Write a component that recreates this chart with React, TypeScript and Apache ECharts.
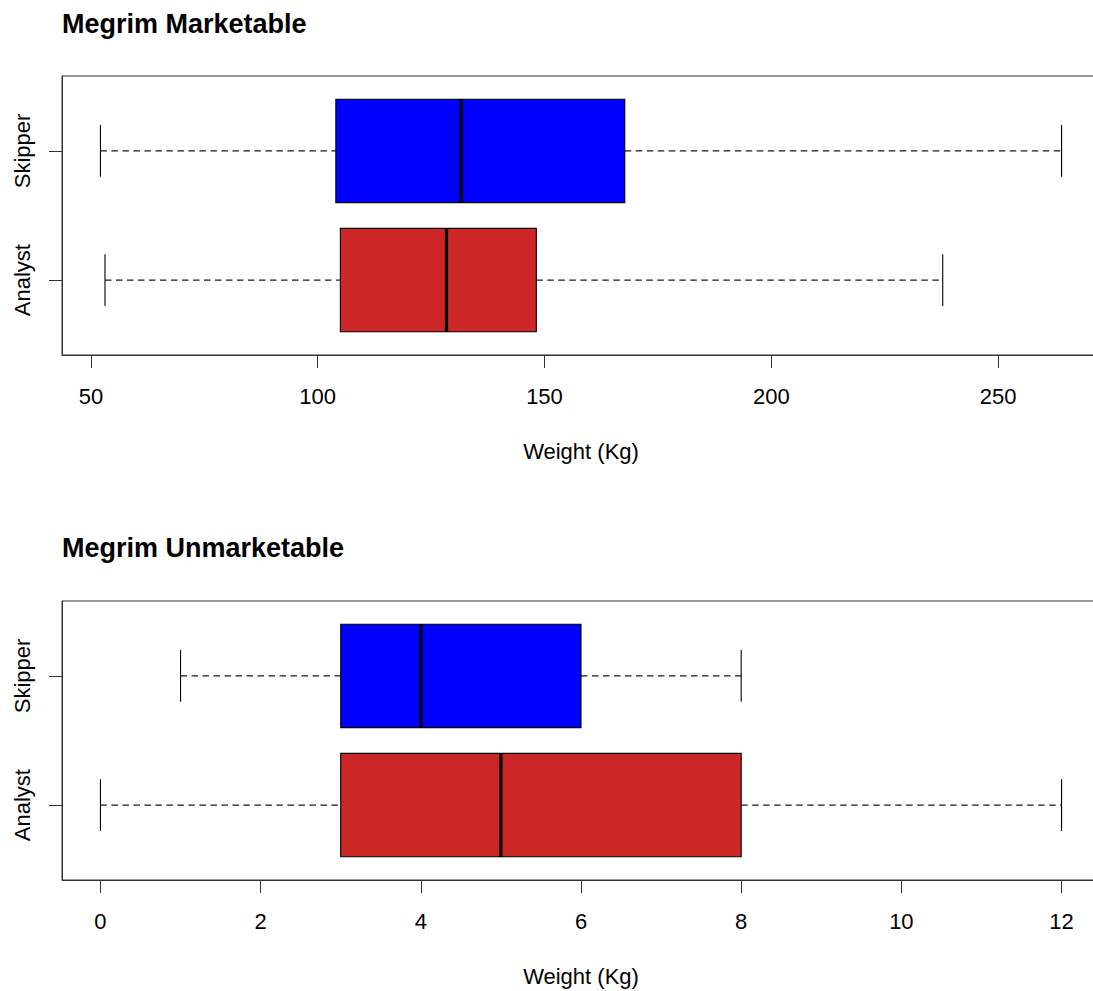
import React, { useEffect, useRef } from "react";
import * as echarts from "echarts";

// Groups, bottom to top (R boxplot order)
const groups = ["Analyst", "Skipper"];
const groupColors = ["#CD2626", "#0000FF"];

// Five-number summaries: [lower whisker, Q1, median, Q3, upper whisker]
const marketableAnalyst = [53.1, 105.0, 128.4, 148.2, 237.8];
const marketableSkipper = [52.1, 104.0, 131.6, 167.7, 264.0];
const unmarketableAnalyst = [0, 3, 5, 8, 12];
const unmarketableSkipper = [1, 3, 4, 6, 8];

const marketableTicks = [50, 100, 150, 200, 250];
const unmarketableTicks = [0, 2, 4, 6, 8, 10, 12];

const titles = ["Megrim Marketable", "Megrim Unmarketable"];
const xTitle = "Weight (Kg)";

const FONT = "'Liberation Sans', Arial, Helvetica, sans-serif";

// R-style axis range: data range padded by 4% on each side
function paddedRange(rows: number[][]): [number, number] {
  const lo = Math.min(...rows.map((r) => r[0]));
  const hi = Math.max(...rows.map((r) => r[4]));
  const pad = (hi - lo) * 0.04;
  return [lo - pad, hi + pad];
}

function renderBox(params: any, api: any) {
  const pos = api.value(0);
  const lo = api.coord([api.value(1), pos]);
  const xQ1 = api.coord([api.value(2), pos])[0];
  const xMed = api.coord([api.value(3), pos])[0];
  const xQ3 = api.coord([api.value(4), pos])[0];
  const xHi = api.coord([api.value(5), pos])[0];
  const xLo = lo[0];
  const yc = lo[1];
  const half = api.size([0, 0.4])[1];
  const staple = api.size([0, 0.2])[1];
  const color = groupColors[pos - 1];
  const dash = { stroke: "#1a1a1a", lineWidth: 1.1, lineDash: [6.5, 4.5] };
  const solid = { stroke: "#000", lineWidth: 1.1 };
  return {
    type: "group",
    children: [
      { type: "line", shape: { x1: xLo, y1: yc, x2: xQ1, y2: yc }, style: dash },
      { type: "line", shape: { x1: xQ3, y1: yc, x2: xHi, y2: yc }, style: dash },
      { type: "line", shape: { x1: xLo, y1: yc - staple, x2: xLo, y2: yc + staple }, style: solid },
      { type: "line", shape: { x1: xHi, y1: yc - staple, x2: xHi, y2: yc + staple }, style: solid },
      {
        type: "rect",
        shape: { x: xQ1, y: yc - half, width: xQ3 - xQ1, height: 2 * half },
        style: { fill: color, stroke: "#000", lineWidth: 1.1 },
      },
      { type: "line", shape: { x1: xMed, y1: yc - half, x2: xMed, y2: yc + half }, style: { stroke: "#000", lineWidth: 3.2 } },
    ],
  };
}

export default function App() {
  const ref = useRef<HTMLDivElement>(null);

  useEffect(() => {
    if (!ref.current) return;
    const chart = echarts.init(ref.current, undefined, { renderer: "svg" });

    const panels = [
      { rows: [marketableAnalyst, marketableSkipper], ticks: marketableTicks, top: 76, height: 279 },
      { rows: [unmarketableAnalyst, unmarketableSkipper], ticks: unmarketableTicks, top: 601, height: 279 },
    ];

    const grid = panels.map((p) => ({
      left: 62,
      top: p.top,
      width: 1038,
      height: p.height,
      show: true,
      borderColor: "#333",
      borderWidth: 1,
      backgroundColor: "transparent",
    }));

    const xAxis = panels.map((p, i) => {
      const [min, max] = paddedRange(p.rows);
      return {
        type: "value",
        gridIndex: i,
        min,
        max,
        splitLine: { show: false },
        axisLine: { show: true, onZero: false, lineStyle: { color: "#333", width: 1 } },
        axisTick: {
          show: true,
          inside: false,
          length: 13,
          customValues: p.ticks,
          lineStyle: { color: "#333", width: 1 },
        },
        axisLabel: {
          show: true,
          customValues: p.ticks,
          margin: 41,
          verticalAlign: "middle",
          color: "#000",
          fontFamily: FONT,
          fontSize: 22,
        },
        name: xTitle,
        nameLocation: "middle",
        nameGap: 96,
        nameTextStyle: {
          color: "#000",
          fontFamily: FONT,
          fontSize: 22,
          verticalAlign: "middle",
        },
      };
    });

    const yAxis = panels.map((_, i) => ({
      type: "value",
      gridIndex: i,
      min: 0.42,
      max: 2.58,
      splitLine: { show: false },
      axisLine: { show: true, onZero: false, lineStyle: { color: "#333", width: 1 } },
      axisTick: {
        show: true,
        inside: false,
        length: 13,
        customValues: [1, 2],
        lineStyle: { color: "#333", width: 1 },
      },
      axisLabel: {
        show: true,
        customValues: [1, 2],
        rotate: 90,
        margin: 40,
        align: "center",
        verticalAlign: "middle",
        color: "#000",
        fontFamily: FONT,
        fontSize: 22,
        formatter: (v: number) => groups[Math.round(v) - 1] ?? "",
      },
    }));

    const series = panels.map((p, i) => ({
      type: "custom",
      name: titles[i],
      xAxisIndex: i,
      yAxisIndex: i,
      renderItem: renderBox,
      encode: { x: [1, 2, 3, 4, 5], y: 0 },
      data: p.rows.map((r, gi) => [gi + 1, ...r]),
      clip: false,
    }));

    chart.setOption({
      animation: false,
      backgroundColor: "#fff",
      title: titles.map((t, i) => ({
        text: t,
        left: 62,
        top: i === 0 ? 10 : 534,
        padding: 0,
        textStyle: {
          color: "#000",
          fontFamily: FONT,
          fontSize: 27,
          fontWeight: "bold",
        },
      })),
      grid,
      xAxis,
      yAxis,
      series,
    });

    return () => chart.dispose();
  }, []);

  return (
    <div
      style={{
        position: "fixed",
        left: 0,
        top: 0,
        width: 1093,
        height: 991,
        overflow: "hidden",
        background: "#fff",
      }}
    >
      <div ref={ref} style={{ width: 1110, height: 991 }} />
    </div>
  );
}
